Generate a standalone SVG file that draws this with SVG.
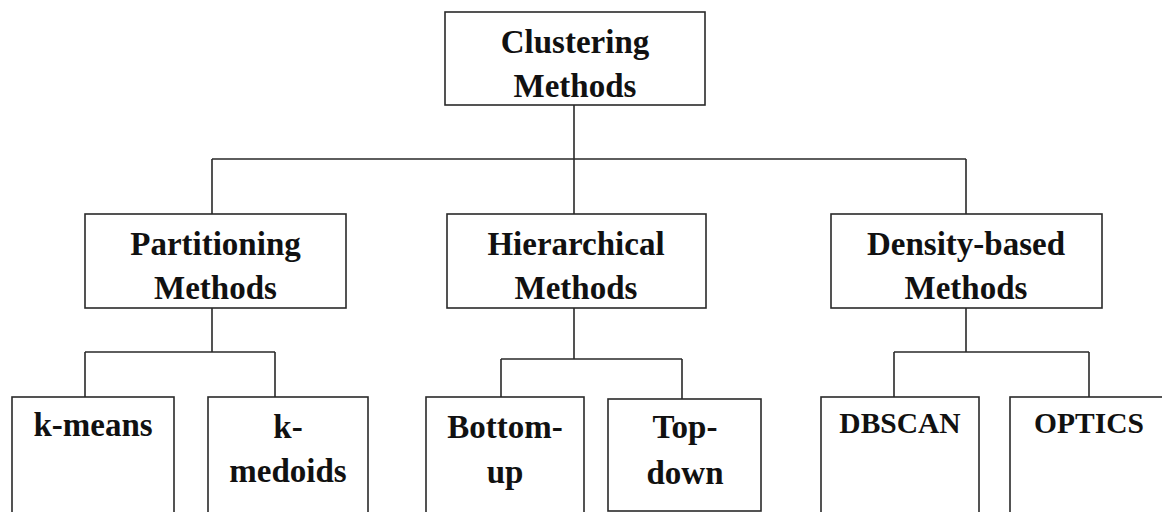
<svg xmlns="http://www.w3.org/2000/svg" width="1162" height="512" viewBox="0 0 1162 512">
<style>
.box{fill:#fff;stroke:#2a2a2a;stroke-width:1.6}
.ln{fill:none;stroke:#2a2a2a;stroke-width:1.6}
.t{font-family:"Liberation Serif","Times New Roman",serif;font-weight:bold;font-size:33px;fill:#111;text-anchor:middle}
.s{font-size:29.5px}
</style>
<rect width="1162" height="512" fill="#fff"/>
<g id="connectors">
<path class="ln" d="M574,105V159M212,159H966M212,159V214M574,159V214M966,159V214"/>
<path class="ln" d="M212,308V352M85,352H275M85,352V397M275,352V397"/>
<path class="ln" d="M574,308V359M501,359H682M501,359V397M682,359V399"/>
<path class="ln" d="M966,308V352M894,352H1089M894,352V397M1089,352V397"/>
</g>
<g id="root"><rect class="box" x="445" y="12" width="260" height="93"/><text class="t" x="575" y="53">Clustering</text><text class="t" x="575" y="97">Methods</text></g>
<g id="partitioning"><rect class="box" x="85" y="214" width="261" height="94"/><text class="t" x="215.5" y="255">Partitioning</text><text class="t" x="215.5" y="299">Methods</text></g>
<g id="hierarchical"><rect class="box" x="447" y="214" width="259" height="94"/><text class="t" x="576" y="255">Hierarchical</text><text class="t" x="576" y="299">Methods</text></g>
<g id="density"><rect class="box" x="831" y="214" width="271" height="94"/><text class="t" x="966" y="255">Density-based</text><text class="t" x="966" y="299">Methods</text></g>
<g id="kmeans"><rect class="box" x="12" y="397" width="162" height="130"/><text class="t" x="93" y="436">k-means</text></g>
<g id="kmedoids"><rect class="box" x="208" y="397" width="160" height="130"/><text class="t" x="288" y="438">k-</text><text class="t" x="288" y="482">medoids</text></g>
<g id="bottomup"><rect class="box" x="426" y="397" width="158" height="130"/><text class="t" x="505" y="438">Bottom-</text><text class="t" x="505" y="483">up</text></g>
<g id="topdown"><rect class="box" x="608" y="399" width="153" height="112"/><text class="t" x="685" y="438">Top-</text><text class="t" x="685" y="484">down</text></g>
<g id="dbscan"><rect class="box" x="821" y="397" width="158" height="130"/><text class="t s" x="900" y="433">DBSCAN</text></g>
<g id="optics"><rect class="box" x="1010" y="397" width="158" height="130"/><text class="t s" x="1089" y="433">OPTICS</text></g>
</svg>
